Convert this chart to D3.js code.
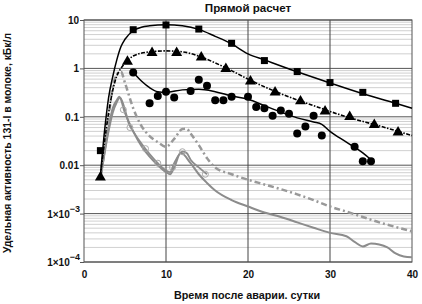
<!DOCTYPE html>
<html><head><meta charset="utf-8">
<script src="https://cdn.jsdelivr.net/npm/d3@7"></script>
<style>
body{margin:0;background:#fff;}
svg{display:block;font-family:"Liberation Sans",Arial,sans-serif;font-weight:bold;}
</style></head>
<body><svg id="c" width="422" height="304"></svg>
<script>
// ---- data ----
const xTicks = [0,10,20,30,40];
const yTicks = [10,1,0.1,0.01,0.001,0.0001];
const yTickLabels = ["10","1","0.1","0.01","1×10|−3","1×10|−4"];

// squares (measured) + model line
const sqX = [2,6,10,14,18,22,26,30,34,38];
const sqY = [0.02,6.3,7.9,6.5,3.3,1.45,0.86,0.51,0.32,0.19];
const sqLineX = [2,2.5,3,3.5,4,4.5,5,6,7,8,10,12,14,16,18,20,22,26,30,34,38,40];
const sqLineY = [0.006,0.05,0.25,0.67,1.5,2.8,4.0,6.0,7.1,7.6,8.0,7.6,6.4,4.6,3.2,2.0,1.5,0.85,0.5,0.3,0.19,0.15];

// triangles + dash-dot model line
const trX = [2,5.3,8.3,11.3,14.3,17.3,20.3,23.3,26.4,29.4,32.4,35.4,38.3];
const trY = [0.0056,1.38,2.1,2.1,1.7,0.98,0.54,0.32,0.21,0.13,0.1,0.068,0.048];
const trLineX = [2,2.5,3,3.5,4,4.5,5,6,8,10,12,14,16,18,20,24,28,32,36,40];
const trLineY = [0.006,0.03,0.12,0.35,0.7,1.0,1.3,1.8,2.2,2.3,2.2,1.8,1.3,0.9,0.6,0.3,0.17,0.1,0.065,0.041];

// circles + solid model line
const ciX = [6,8,9,10,11,13,14,15,16,17,18,20,21,22,23,24,25,26,27,28,29,33,34,35];
const ciY = [0.82,0.19,0.27,0.33,0.25,0.34,0.58,0.44,0.22,0.22,0.26,0.26,0.16,0.15,0.105,0.135,0.115,0.045,0.063,0.105,0.041,0.024,0.012,0.012];
const ciLineX = [6,7,8,9,10,12,14,16,18,20,22,24,26,28,29,30,32,34,35];
const ciLineY = [0.82,0.55,0.4,0.33,0.32,0.36,0.37,0.33,0.27,0.23,0.17,0.125,0.095,0.078,0.07,0.05,0.03,0.018,0.013];

// grey dash-dot
const gdX = [2,3,3.5,4,4.5,5,6,7,8,9,10,11,12,12.5,13,14,15,16,18,20,22,24,26,28,30,32,34,36,38,40];
const gdY = [0.005,0.1,0.4,0.75,0.85,0.5,0.15,0.065,0.04,0.03,0.024,0.035,0.056,0.057,0.045,0.026,0.014,0.009,0.0065,0.005,0.004,0.0032,0.0025,0.0019,0.0014,0.0011,0.00085,0.00066,0.00053,0.00043];

// grey solid A (with hollow circles)
const gaX = [2,3,3.5,4,4.4,5,5.5,6,7,8,9,10,10.5,11,12,12.5,13,14,15];
const gaY = [0.005,0.05,0.12,0.2,0.25,0.14,0.07,0.05,0.028,0.017,0.011,0.0078,0.0072,0.011,0.019,0.018,0.013,0.009,0.0065];
const gaMkX = [4.8,5.6,7.5,9,10.8,12,14.8];
const gaMkY = [0.14,0.06,0.022,0.011,0.009,0.019,0.0065];

// grey solid B
const gbX = [2,3,3.5,4,4.3,5,6,7,8,9,10,10.5,11,11.8,13,14,15,16,18,20,22,24,26,28,30,32,33,34,35,36,37,38,39,40];
const gbY = [0.005,0.06,0.15,0.22,0.26,0.12,0.05,0.025,0.015,0.01,0.0072,0.0065,0.009,0.018,0.011,0.0065,0.0043,0.003,0.0019,0.0014,0.00105,0.00085,0.00066,0.00051,0.0004,0.00034,0.00026,0.00021,0.00024,0.00023,0.0002,0.00015,0.00013,0.000125];

// ---- layout ----
const L=84,R=412,T=20,B=262;
const svg=d3.select("#c");
const x=d3.scaleLinear().domain([0,40]).range([L,R]);
const y=d3.scaleLog().domain([0.0001,10]).range([B,T]);

// minor grid
const minor=[];
for(let e=-4;e<1;e++) for(let m=2;m<10;m++) minor.push(m*Math.pow(10,e));
svg.append("g").selectAll("line").data(minor).join("line")
 .attr("x1",L).attr("x2",R).attr("y1",d=>y(d)).attr("y2",d=>y(d))
 .attr("stroke","#c4c4c4").attr("stroke-width",0.8);
// major grid
svg.append("g").selectAll("line").data(yTicks).join("line")
 .attr("x1",L).attr("x2",R).attr("y1",d=>y(d)).attr("y2",d=>y(d))
 .attr("stroke","#555").attr("stroke-width",1);
svg.append("g").selectAll("line").data([10,20,30]).join("line")
 .attr("y1",T).attr("y2",B).attr("x1",d=>x(d)).attr("x2",d=>x(d))
 .attr("stroke","#444").attr("stroke-width",1);
svg.append("rect").attr("x",L).attr("y",T).attr("width",R-L).attr("height",B-T)
 .attr("fill","none").attr("stroke","#555").attr("stroke-width",1);

// axes
const ya=svg.append("g").attr("transform",`translate(${L},0)`)
 .call(d3.axisLeft(y).tickValues(yTicks).tickSize(4).tickFormat(""));
ya.select(".domain").remove();
ya.selectAll("line").attr("stroke","#555");
const yl=svg.append("g").selectAll("text").data(yTicks).join("text")
 .attr("x",L-5).attr("y",d=>y(d)+4).attr("text-anchor","end")
 .attr("font-size",10).attr("fill","#111");
yl.each(function(d,i){
  const parts=yTickLabels[i].split("|");
  const t=d3.select(this);
  if(parts.length===1){t.text(parts[0]);}
  else{
    t.append("tspan").text(parts[0]);
    t.append("tspan").attr("dy",-6).attr("font-size",9).text(parts[1]);
  }
});
yl.filter((d,i)=>yTickLabels[i].includes("|")).attr("x",L-4);

const xa=svg.append("g").attr("transform",`translate(0,${B})`)
 .call(d3.axisBottom(x).tickValues(xTicks).tickSize(0).tickPadding(9).tickFormat(d3.format("d")));
xa.select(".domain").remove();
xa.selectAll("text").attr("font-size",10).attr("font-weight","bold").attr("fill","#111")
 .attr("font-family","Liberation Sans, Arial, sans-serif");

// titles
svg.append("text").attr("x",248).attr("y",12).attr("text-anchor","middle")
 .attr("font-size",11.6).attr("fill","#111").text("Прямой расчет");
svg.append("text").attr("x",247).attr("y",299).attr("text-anchor","middle")
 .attr("font-size",10.8).attr("fill","#111").text("Время после аварии. сутки");
svg.append("text").attr("transform",`translate(11,${(T+B)/2+2}) rotate(-90)`)
 .attr("text-anchor","middle").attr("font-size",10.4).attr("fill","#111")
 .text("Удельная активность 131-I в молоке, кБк/л");

// lines
const line=d3.line().x(d=>x(d[0])).y(d=>y(d[1])).curve(d3.curveMonotoneX);
const zip=(a,b)=>a.map((v,i)=>[v,b[i]]);
const gclr="#8c8c8c";
svg.append("path").datum(zip(gbX,gbY)).attr("d",line).attr("fill","none")
 .attr("stroke",gclr).attr("stroke-width",2);
svg.append("path").datum(zip(gaX,gaY)).attr("d",line).attr("fill","none")
 .attr("stroke",gclr).attr("stroke-width",1.8);
svg.append("g").selectAll("circle").data(zip(gaMkX,gaMkY)).join("circle")
 .attr("cx",d=>x(d[0])).attr("cy",d=>y(d[1])).attr("r",3)
 .attr("fill","none").attr("stroke","#aaa").attr("stroke-width",1);
svg.append("path").datum(zip(gdX,gdY)).attr("d",line).attr("fill","none")
 .attr("stroke","#999").attr("stroke-width",2.5).attr("stroke-dasharray","6,3,2,3");

svg.append("path").datum(zip(sqLineX,sqLineY)).attr("d",line).attr("fill","none")
 .attr("stroke","#000").attr("stroke-width",1.5);
svg.append("path").datum(zip(trLineX,trLineY)).attr("d",line).attr("fill","none")
 .attr("stroke","#000").attr("stroke-width",1.6).attr("stroke-dasharray","4,1.5,1.5,1.5");
svg.append("path").datum(zip(ciLineX,ciLineY)).attr("d",line).attr("fill","none")
 .attr("stroke","#000").attr("stroke-width",1.5);

// markers
svg.append("g").selectAll("rect").data(zip(sqX,sqY)).join("rect")
 .attr("x",d=>x(d[0])-3.5).attr("y",d=>y(d[1])-3.5).attr("width",7).attr("height",7).attr("fill","#000");
const tri=d3.symbol().type(d3.symbolTriangle).size(52);
svg.append("g").selectAll("path").data(zip(trX,trY)).join("path")
 .attr("transform",d=>`translate(${x(d[0])},${y(d[1])})`).attr("d",tri).attr("fill","#000");
svg.append("g").selectAll("circle").data(zip(ciX,ciY)).join("circle")
 .attr("cx",d=>x(d[0])).attr("cy",d=>y(d[1])).attr("r",4).attr("fill","#000");
</script></body></html>
